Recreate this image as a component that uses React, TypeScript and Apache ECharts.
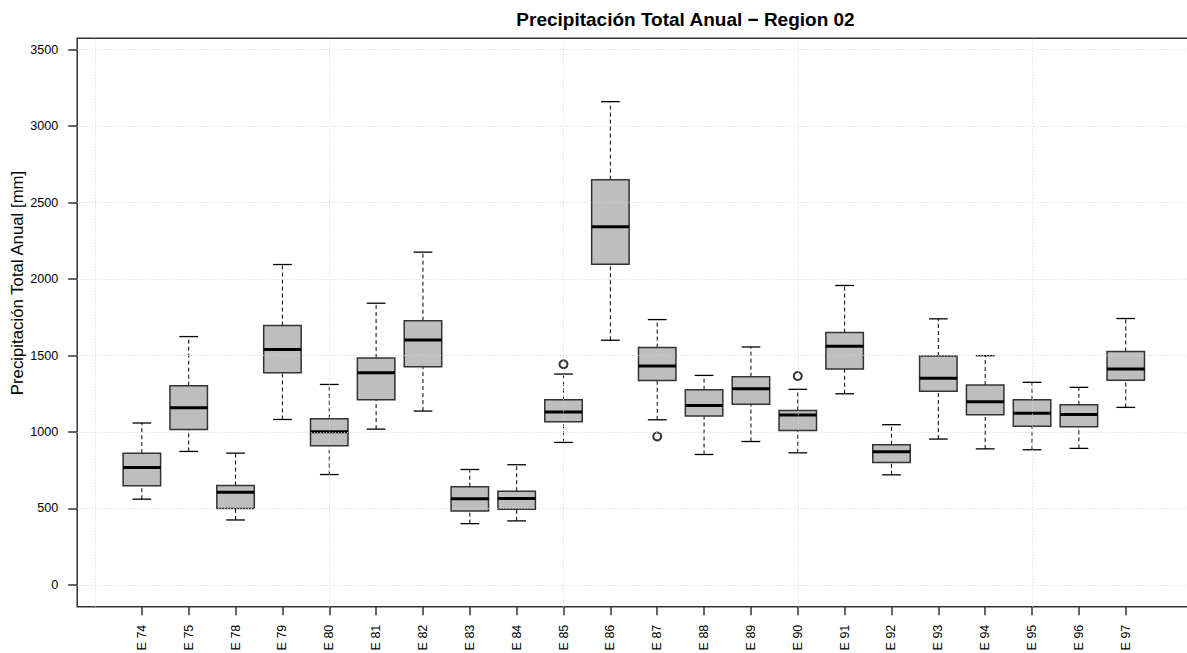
import React, { useEffect, useRef } from "react";
import * as echarts from "echarts";

const categories = ["E 74", "E 75", "E 78", "E 79", "E 80", "E 81", "E 82", "E 83", "E 84", "E 85", "E 86", "E 87", "E 88", "E 89", "E 90", "E 91", "E 92", "E 93", "E 94", "E 95", "E 96", "E 97"];
const lowerWhisker = [561, 873, 425, 1082, 722, 1019, 1137, 401, 419, 932, 1600, 1080, 853, 938, 864, 1250, 720, 954, 890, 884, 893, 1161];
const q1 = [648, 1017, 500, 1388, 910, 1211, 1427, 484, 495, 1067, 2097, 1336, 1104, 1181, 1010, 1412, 801, 1266, 1113, 1037, 1034, 1338];
const median = [768, 1159, 607, 1539, 1002, 1388, 1602, 563, 565, 1131, 2342, 1432, 1174, 1283, 1111, 1560, 871, 1351, 1198, 1122, 1115, 1412];
const q3 = [862, 1303, 650, 1696, 1087, 1484, 1728, 642, 613, 1211, 2650, 1552, 1277, 1362, 1141, 1650, 917, 1497, 1307, 1211, 1178, 1527];
const upperWhisker = [1059, 1624, 862, 2095, 1311, 1842, 2176, 755, 786, 1379, 3160, 1735, 1370, 1556, 1279, 1958, 1048, 1740, 1499, 1325, 1292, 1742];
const outlierStations = ["E 85", "E 87", "E 90"];
const outlierValues = [1443, 971, 1366];
const yTicks = [0, 500, 1000, 1500, 2000, 2500, 3000, 3500];
const xGridPositions = [0, 5, 10, 15, 20];

const titleText = "Precipitación Total Anual − Region 02";
const yAxisName = "Precipitación Total Anual [mm]";
const FONT = "'Liberation Sans', Arial, sans-serif";

export default function App() {
  const ref = useRef<HTMLDivElement>(null);
  useEffect(() => {
    document.body.style.margin = "0";
    if (!ref.current) return;
    const chart = echarts.init(ref.current, undefined, { renderer: "svg" });
    const positions = categories.map((_, i) => i + 1);
    const boxData = categories.map((_, i) => [positions[i], lowerWhisker[i], q1[i], median[i], q3[i], upperWhisker[i]]);
    const outlierData = outlierStations.map((s, i) => [categories.indexOf(s) + 1, outlierValues[i]]);
    const gridLineStyle = { color: "#d3d3d3", width: 1, type: [1, 2] as any };

    chart.setOption({
      animation: false,
      backgroundColor: "#fff",
      textStyle: { fontFamily: FONT },
      graphic: [
        {
          type: "text",
          x: 685.5,
          y: 19,
          style: {
            text: titleText,
            align: "center",
            verticalAlign: "middle",
            fontSize: 19,
            fontWeight: "bold",
            fontFamily: FONT,
            fill: "#000",
          },
        },
        {
          type: "text",
          x: 17,
          y: 283,
          rotation: Math.PI / 2,
          style: {
            text: yAxisName,
            align: "center",
            verticalAlign: "middle",
            fontSize: 16.8,
            fontFamily: FONT,
            fill: "#000",
          },
        },
      ],
      grid: {
        left: 77.2,
        top: 38.3,
        width: 1113.2,
        height: 568.4,
        containLabel: false,
        outerBoundsMode: "none",
        show: true,
        borderColor: "#333",
        borderWidth: 1.5,
        backgroundColor: "transparent",
      },
      xAxis: {
        type: "value",
        min: -0.38,
        max: 23.38,
        axisLine: { show: false, onZero: false },
        splitLine: { show: false },
        axisTick: {
          show: true,
          inside: false,
          length: 8.5,
          lineStyle: { color: "#333", width: 1.5 },
          customValues: positions,
        },
        axisLabel: {
          show: true,
          rotate: 90,
          margin: 18,
          fontSize: 12.5,
          color: "#000",
          fontFamily: FONT,
          customValues: positions,
          formatter: (v: number) => categories[Math.round(v) - 1] ?? "",
        },
      },
      yAxis: {
        type: "value",
        min: -142,
        max: 3574,
        axisLine: { show: false, onZero: false },
        splitLine: { show: false },
        axisTick: {
          show: true,
          inside: false,
          length: 9,
          lineStyle: { color: "#333", width: 1.5 },
          customValues: yTicks,
        },
        axisLabel: {
          show: true,
          margin: 19,
          fontSize: 12.6,
          color: "#000",
          fontFamily: FONT,
          customValues: yTicks,
          formatter: (v: number) => String(v),
        },
      },
      series: [
        {
          type: "custom",
          z: 2,
          data: boxData,
          encode: { x: 0, y: [1, 2, 3, 4, 5] },
          renderItem: (params: any, api: any) => {
            const x = api.value(0);
            const pLow = api.coord([x, api.value(1)]);
            const pQ1 = api.coord([x, api.value(2)]);
            const pMed = api.coord([x, api.value(3)]);
            const pQ3 = api.coord([x, api.value(4)]);
            const pHigh = api.coord([x, api.value(5)]);
            const w = api.size([0.8, 0])[0];
            const cx = pMed[0];
            const capHalf = w / 4;
            const dash = { stroke: "#000", lineWidth: 1, lineDash: [4, 3] };
            const solid = { stroke: "#000", lineWidth: 1.3 };
            return {
              type: "group",
              children: [
                { type: "line", shape: { x1: cx, y1: pQ3[1], x2: cx, y2: pHigh[1] }, style: dash },
                { type: "line", shape: { x1: cx, y1: pLow[1], x2: cx, y2: pQ1[1] }, style: dash },
                { type: "line", shape: { x1: cx - capHalf, y1: pHigh[1], x2: cx + capHalf, y2: pHigh[1] }, style: solid },
                { type: "line", shape: { x1: cx - capHalf, y1: pLow[1], x2: cx + capHalf, y2: pLow[1] }, style: solid },
                {
                  type: "rect",
                  shape: { x: cx - w / 2, y: pQ3[1], width: w, height: pQ1[1] - pQ3[1] },
                  style: { fill: "#bebebe", stroke: "#333", lineWidth: 1.5 },
                },
                { type: "line", shape: { x1: cx - w / 2, y1: pMed[1], x2: cx + w / 2, y2: pMed[1] }, style: { stroke: "#000", lineWidth: 3 } },
              ],
            };
          },
        },
        {
          type: "scatter",
          z: 3,
          data: outlierData,
          symbol: "emptyCircle",
          symbolSize: 8,
          itemStyle: { color: "#000", borderColor: "#000", borderWidth: 1.2 },
          silent: true,
          markLine: {
            silent: true,
            symbol: "none",
            label: { show: false },
            lineStyle: gridLineStyle,
            data: [
              ...yTicks.map((v) => ({ yAxis: v })),
              ...xGridPositions.map((v) => ({ xAxis: v })),
            ],
          },
        },
      ],
    });
    return () => chart.dispose();
  }, []);
  return <div ref={ref} style={{ width: 1187, height: 653 }} />;
}
